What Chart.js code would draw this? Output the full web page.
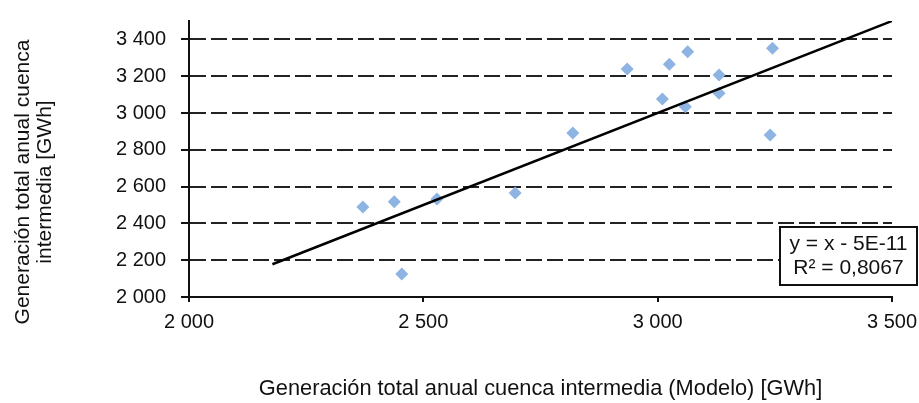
<!DOCTYPE html>
<html>
<head>
<meta charset="utf-8">
<script src="https://cdn.jsdelivr.net/npm/chart.js@4/dist/chart.umd.min.js"></script>
<style>
  html, body { margin: 0; padding: 0; background: #ffffff; }
  #wrap { width: 919px; height: 403px; position: relative; }
  canvas { display: block; }
</style>
</head>
<body>
<div id="wrap"><canvas id="chart" width="919" height="403"></canvas></div>
<script>
// Annual generation of the intermediate basin: model (x) vs. observed (y), GWh
const modelGWh    = [2371, 2438, 2454, 2529, 2696, 2819, 2935, 3010, 3025, 3064, 3059, 3131, 3131, 3240, 3245];
const observedGWh = [2489, 2518, 2125, 2533, 2565, 2891, 3239, 3076, 3265, 3333, 3034, 3207, 3107, 2880, 3352];

// Linear trend line as reported: y = x - 5E-11, R² = 0,8067
const trendSlope = 1;
const trendIntercept = -5e-11;
const trendFromX = 2178;
const trendToX = 3500;
const trendLabels = ['y = x - 5E-11', 'R\u00b2 = 0,8067'];

// Axis ticks
const xTickValues = [2000, 2500, 3000, 3500];
const yTickValues = [2000, 2200, 2400, 2600, 2800, 3000, 3200, 3400];

const xTitle = 'Generaci\u00f3n total anual cuenca intermedia (Modelo) [GWh]';
const yTitle = ['Generaci\u00f3n total anual cuenca', 'intermedia [GWh]'];

const FONT = "'Liberation Sans', Arial, sans-serif";
const TEXT = '#111111';

const fmt = v => String(v).replace(/\B(?=(\d{3})+(?!\d))/g, ' ');

const points = modelGWh.map((x, i) => ({ x, y: observedGWh[i] }));
const trend = [trendFromX, trendToX].map(x => ({ x, y: trendSlope * x + trendIntercept }));

// Rotated two-line title for the vertical axis
const yTitlePlugin = {
  id: 'yTitle',
  afterDraw(chart) {
    const { ctx, chartArea } = chart;
    ctx.save();
    ctx.font = '21px ' + FONT;
    ctx.fillStyle = TEXT;
    ctx.textAlign = 'center';
    ctx.textBaseline = 'middle';
    const cy = chartArea.top + 161;
    const x0 = chartArea.left - 166;
    yTitle.forEach((line, i) => {
      ctx.save();
      ctx.translate(x0 + i * 22, cy);
      ctx.rotate(-Math.PI / 2);
      ctx.fillText(line, 0, 0);
      ctx.restore();
    });
    ctx.restore();
  }
};

// Boxed label with the trend equation and R²
const trendBoxPlugin = {
  id: 'trendBox',
  afterDraw(chart) {
    const { ctx, chartArea } = chart;
    const left = chartArea.right - 112;
    const right = chartArea.right + 25;
    const bottom = chartArea.bottom - 12;
    const top = bottom - 58;
    ctx.save();
    ctx.fillStyle = '#ffffff';
    ctx.fillRect(left, top, right - left, bottom - top);
    ctx.lineWidth = 2;
    ctx.strokeStyle = '#111111';
    ctx.strokeRect(left, top, right - left, bottom - top);
    ctx.font = '21px ' + FONT;
    ctx.fillStyle = TEXT;
    ctx.textAlign = 'center';
    ctx.textBaseline = 'middle';
    const cx = (left + right) / 2;
    ctx.fillText(trendLabels[0], cx, top + 17);
    ctx.fillText(trendLabels[1], cx, top + 41);
    ctx.restore();
  }
};

new Chart(document.getElementById('chart'), {
  type: 'scatter',
  data: {
    datasets: [
      {
        type: 'line',
        data: trend,
        borderColor: '#000000',
        borderWidth: 2.5,
        pointRadius: 0,
        fill: false,
        tension: 0
      },
      {
        data: points,
        pointStyle: 'rectRot',
        pointRadius: 6.5,
        backgroundColor: '#8DB4E2',
        borderColor: '#8DB4E2',
        borderWidth: 0
      }
    ]
  },
  options: {
    responsive: false,
    animation: false,
    devicePixelRatio: 1,
    layout: { padding: { left: 0, right: 27, top: 21, bottom: 0 } },
    plugins: {
      legend: { display: false },
      tooltip: { enabled: false }
    },
    scales: {
      x: {
        type: 'linear',
        min: 2000,
        max: 3500,
        afterBuildTicks: s => { s.ticks = xTickValues.map(value => ({ value })); },
        afterFit: s => { s.height = 106; s.paddingLeft = 0; s.paddingRight = 0; },
        grid: {
          drawOnChartArea: false,
          drawTicks: true,
          tickLength: 5,
          color: '#111111',
          lineWidth: 2
        },
        border: { display: true, color: '#111111', width: 2 },
        ticks: {
          padding: 8,
          color: TEXT,
          font: { family: FONT, size: 20 },
          maxRotation: 0,
          callback: v => fmt(v)
        },
        title: {
          display: true,
          text: xTitle,
          color: TEXT,
          font: { family: FONT, size: 21.8 },
          padding: { top: 0, bottom: 1 }
        }
      },
      y: {
        type: 'linear',
        min: 2000,
        max: 3500,
        afterBuildTicks: s => { s.ticks = yTickValues.map(value => ({ value })); },
        afterFit: s => { s.width = 189; s.paddingTop = 0; s.paddingBottom = 0; },
        grid: {
          drawOnChartArea: true,
          drawTicks: true,
          tickLength: 8,
          color: '#222222',
          lineWidth: 2,
          tickColor: '#111111',
          tickBorderDash: []
        },
        border: { display: true, color: '#111111', width: 2, dash: [16, 5] },
        ticks: {
          padding: 15,
          color: TEXT,
          font: { family: FONT, size: 20 },
          callback: v => fmt(v)
        },
        title: { display: false }
      }
    }
  },
  plugins: [yTitlePlugin, trendBoxPlugin]
});
</script>
</body>
</html>
